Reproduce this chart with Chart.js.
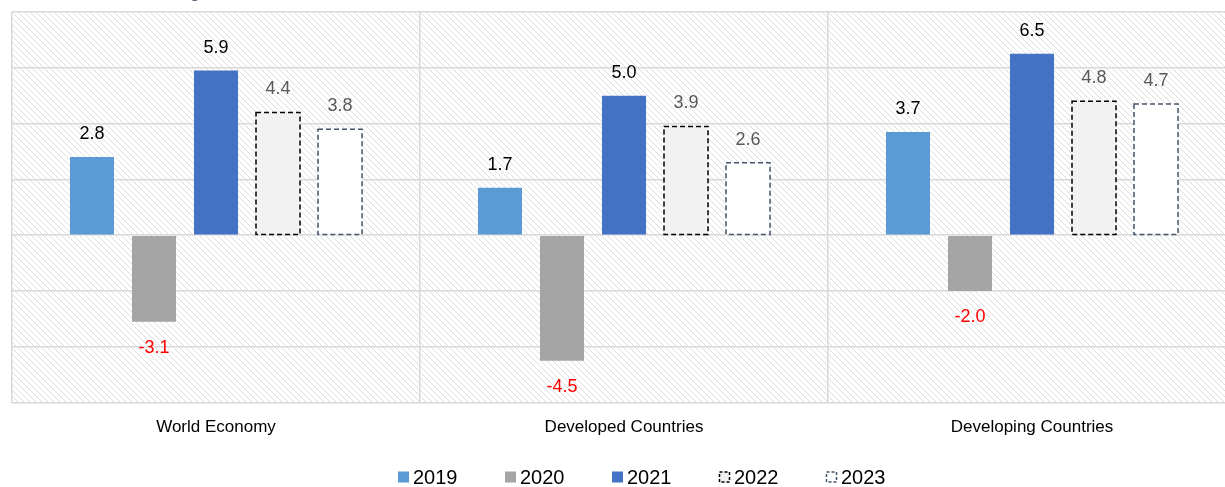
<!DOCTYPE html>
<html>
<head>
<meta charset="utf-8">
<script src="https://cdn.jsdelivr.net/npm/chart.js@4/dist/chart.umd.min.js"></script>
<style>
  html, body { margin: 0; padding: 0; background: #fff; overflow: hidden; }
  #wrap { position: relative; width: 1225px; height: 487px; overflow: hidden; }
  #title {
    position: absolute; left: 0; top: -24px;
    font: 22px "Liberation Sans", Arial, sans-serif; color: #44546a; white-space: nowrap;
  }
</style>
</head>
<body>
<div id="wrap">
  <div id="title">Chart 1: Real GDP growth forecast, %</div>
  <!-- plot runs off the right edge like the original -->
  <canvas id="gdp-chart" width="1240" height="487"></canvas>
</div>
<script>
// Real GDP growth, %
const categories = ['World Economy', 'Developed Countries', 'Developing Countries'];
const years = ['2019', '2020', '2021', '2022', '2023'];
const growth2019 = [2.8, 1.7, 3.7];
const growth2020 = [-3.1, -4.5, -2.0];
const growth2021 = [5.9, 5.0, 6.5];
const growth2022 = [4.4, 3.9, 4.8];
const growth2023 = [3.8, 2.6, 4.7];
const yMin = -6, yMax = 8, yStep = 2;

const FONT = '"Liberation Sans", Arial, sans-serif';

// light diagonal hatch behind the plot
function makeHatch() {
  const c = document.createElement('canvas');
  c.width = 6; c.height = 6;
  const g = c.getContext('2d');
  g.strokeStyle = '#dedede';
  g.lineWidth = 1;
  g.beginPath();
  g.moveTo(-2, -2); g.lineTo(8, 8);
  g.moveTo(-2, 4); g.lineTo(2, 8);
  g.moveTo(4, -2); g.lineTo(8, 2);
  g.stroke();
  return g.createPattern(c, 'repeat');
}

const hatchBg = {
  id: 'hatchBg',
  beforeDraw(chart) {
    const { ctx, chartArea: a } = chart;
    ctx.save();
    ctx.fillStyle = makeHatch();
    ctx.fillRect(a.left, a.top, a.right - a.left, a.bottom - a.top);
    ctx.restore();
  }
};

// dashed outlines for forecast years + value labels
const barExtras = {
  id: 'barExtras',
  afterDatasetsDraw(chart) {
    const ctx = chart.ctx;
    chart.data.datasets.forEach((ds, di) => {
      const meta = chart.getDatasetMeta(di);
      meta.data.forEach((bar, i) => {
        const v = ds.data[i];
        const left = bar.x - bar.width / 2;
        const top = Math.min(bar.y, bar.base);
        const h = Math.abs(bar.base - bar.y);
        if (ds.dashColor) {
          ctx.save();
          ctx.strokeStyle = ds.dashColor;
          ctx.lineWidth = 1.5;
          ctx.setLineDash([5, 3]);
          ctx.strokeRect(left, top, bar.width, h);
          ctx.restore();
        }
        ctx.save();
        ctx.font = '18px ' + FONT;
        ctx.textAlign = 'center';
        ctx.textBaseline = 'middle';
        ctx.fillStyle = v < 0 ? '#ff0000' : ds.labelColor;
        const y = v < 0 ? bar.y + 26 : bar.y - 23;
        ctx.fillText(v.toFixed(1), bar.x, y);
        ctx.restore();
      });
    });
  }
};

// legend drawn by hand so the spacing matches
const customLegend = {
  id: 'customLegend',
  afterDraw(chart) {
    const ctx = chart.ctx;
    const y = 477, box = 11;
    let x = 398;
    ctx.save();
    ctx.font = '20px ' + FONT;
    ctx.textBaseline = 'middle';
    chart.data.datasets.forEach(ds => {
      ctx.fillStyle = ds.backgroundColor;
      ctx.fillRect(x, y - box / 2, box, box);
      if (ds.dashColor) {
        ctx.strokeStyle = ds.dashColor;
        ctx.lineWidth = 1.5;
        ctx.setLineDash([3, 2]);
        ctx.strokeRect(x + 0.5, y - box / 2 + 0.5, box - 1, box - 1);
        ctx.setLineDash([]);
      }
      ctx.fillStyle = '#000';
      ctx.fillText(ds.label, x + box + 4, y + 1);
      x += 107;
    });
    ctx.restore();
  }
};

const series = [growth2019, growth2020, growth2021, growth2022, growth2023];
const fills = ['#5b9bd5', '#a5a5a5', '#4472c4', '#f2f2f2', '#ffffff'];
const dashes = [null, null, null, '#000000', '#44546a'];
const labelColors = ['#000000', '#000000', '#000000', '#595959', '#595959'];

new Chart(document.getElementById('gdp-chart'), {
  type: 'bar',
  data: {
    labels: categories,
    datasets: years.map((yr, i) => ({
      label: yr,
      data: series[i],
      backgroundColor: fills[i],
      borderWidth: 0,
      dashColor: dashes[i],
      labelColor: labelColors[i],
      barPercentage: 0.71,
      categoryPercentage: 0.76
    }))
  },
  options: {
    responsive: false,
    animation: false,
    layout: { padding: { left: 12, right: 4, top: 12, bottom: 34 } },
    plugins: {
      legend: { display: false },
      title: { display: false },
      tooltip: { enabled: false }
    },
    scales: {
      y: {
        min: yMin, max: yMax,
        ticks: { display: false, stepSize: yStep },
        grid: { color: '#d9d9d9', lineWidth: 1.5, drawTicks: false },
        border: { display: false }
      },
      x: {
        ticks: { color: '#000', font: { size: 17, family: FONT }, padding: 15 },
        grid: { color: '#d9d9d9', lineWidth: 1.5, drawTicks: false },
        border: { display: false }
      }
    }
  },
  plugins: [hatchBg, barExtras, customLegend]
});
</script>
</body>
</html>
